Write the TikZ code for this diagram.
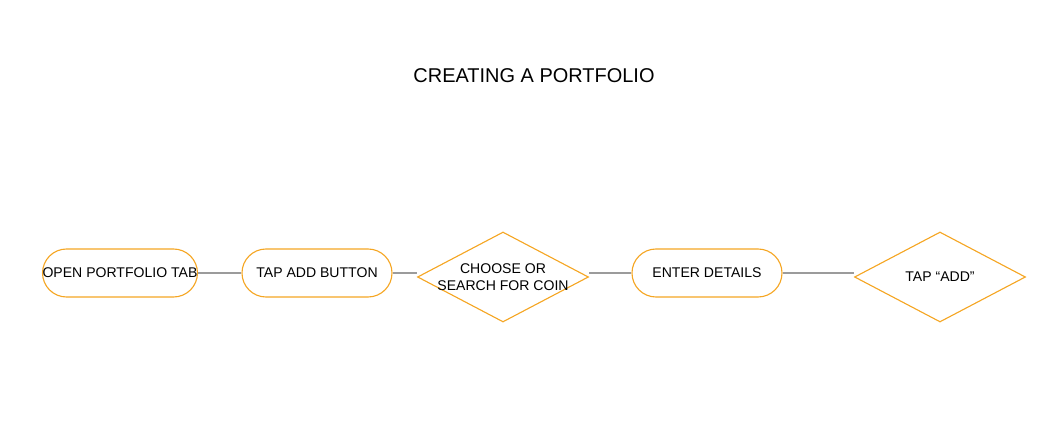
\documentclass[tikz,border=0pt]{standalone}
\usepackage{fontspec}
\setmainfont{Liberation Sans}
\usetikzlibrary{shapes.geometric}
\definecolor{flow}{HTML}{F5A623}
\definecolor{wire}{HTML}{9B9B9B}
\tikzset{
  stepbox/.style={draw=flow,thick,rectangle,rounded corners=0.6cm,minimum width=3.75cm,minimum height=1.2cm,inner sep=0pt,font=\normalsize},
  choice/.style={draw=flow,thick,diamond,minimum width=4.275cm,minimum height=2.25cm,inner sep=-0.5cm,font=\normalsize,align=center},
  link/.style={wire,thick}
}
\begin{document}
\begin{tikzpicture}
\useasboundingbox (0,0) rectangle (26.6,10.675);
\node [font=\fontsize{14.2}{17}\selectfont] (title) at (13.35,8.775) {CREATING A PORTFOLIO};

\node [stepbox] (open) at (3.0,3.85) {OPEN PORTFOLIO TAB};
\node [stepbox] (tap) at (7.925,3.85) {TAP ADD BUTTON};
\node [choice] (coin) at (12.575,3.75) {CHOOSE OR\\SEARCH FOR COIN};
\node [stepbox] (enter) at (17.675,3.85) {ENTER DETAILS};
\node [choice] (add) at (23.5,3.75) {TAP “ADD”};

\draw[link](open.east) -- (tap.west);
\draw[link](tap.east) -- (tap.east -| coin.west);
\draw[link](coin.east |- enter.west) -- (enter.west);
\draw[link](enter.east) -- (enter.east -| add.west);

\end{tikzpicture}
\end{document}
